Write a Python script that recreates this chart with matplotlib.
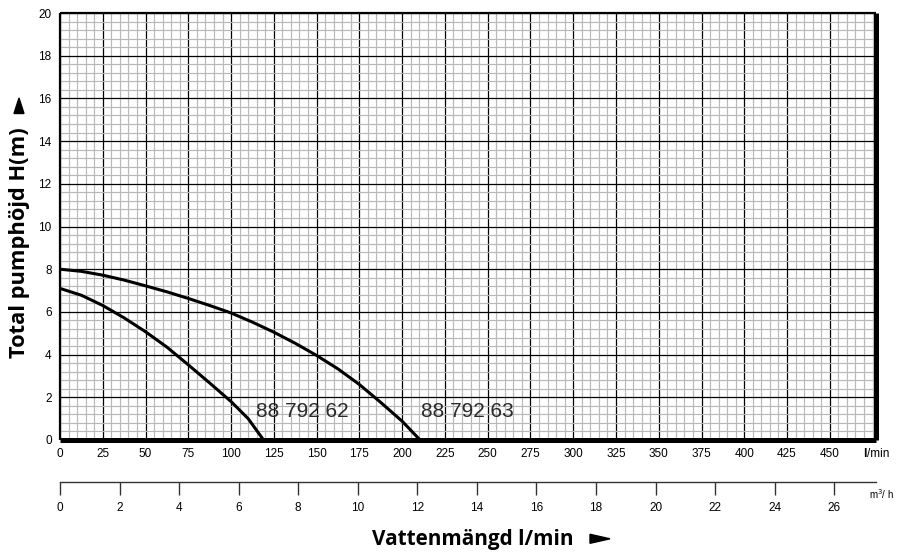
"""Pump curves: Total pumphöjd vs Vattenmängd"""
import matplotlib
matplotlib.use("Agg")
import matplotlib.pyplot as plt
from matplotlib.patches import Polygon
import numpy as np

# flow (l/min) and head (m)
q_62 = [0, 12.5, 25, 37.5, 50, 62.5, 75, 87.5, 100, 110, 119]
h_62 = [7.1, 6.78, 6.3, 5.72, 5.07, 4.35, 3.52, 2.67, 1.8, 1.0, 0.0]

q_63 = [0, 12.5, 25, 37.5, 50, 62.5, 75, 87.5, 100, 112.5, 125, 137.5,
        150, 162.5, 175, 187.5, 200, 210.5]
h_63 = [8.0, 7.9, 7.72, 7.49, 7.22, 6.94, 6.63, 6.3, 5.95, 5.52, 5.05, 4.53,
        3.96, 3.33, 2.6, 1.76, 0.88, 0.0]

curve_names = ["88 792 62", "88 792 63"]
label_pos = [(114.4, 1.06), (211.0, 1.06)]

x_ticks = list(range(0, 451, 25))
y_ticks = list(range(0, 21, 2))
m3h_ticks = list(range(0, 27, 2))

W, H = 897, 552
fig = plt.figure(figsize=(W / 100, H / 100), dpi=100)

tick_font = dict(family="Liberation Sans", size=8.5)


def fpos(x, y):
    # pixel position (from top-left) -> figure fraction
    return x / W, 1 - y / H


# main chart
left, right, top, bottom = 60, 876, 13, 440
ax = fig.add_axes([left / W, 1 - bottom / H, (right - left) / W, (bottom - top) / H])
ax.set_xlim(0, 477)
ax.set_ylim(0, 20)

ax.set_xticks(np.arange(0, 477, 5), minor=True)
ax.set_yticks(np.arange(0, 20.01, 0.4), minor=True)
ax.set_xticks(x_ticks)
ax.set_yticks(y_ticks)
ax.grid(which="minor", color="#b8b8b8", lw=0.85)
ax.grid(which="major", color="black", lw=0.9)
ax.set_axisbelow(True)

ax.set_xticklabels([str(v) for v in x_ticks], **tick_font)
ax.set_yticklabels([str(v) for v in y_ticks], **tick_font)
ax.tick_params(which="both", length=0)
ax.tick_params(axis="x", pad=6)
ax.tick_params(axis="y", pad=6)

for side in ["left", "top"]:
    ax.spines[side].set_linewidth(1.6)
for side in ["right", "bottom"]:
    ax.spines[side].set_linewidth(3.6)
for sp in ax.spines.values():
    sp.set_capstyle("butt")

ax.plot(q_62, h_62, color="black", lw=2.2, solid_joinstyle="round")
ax.plot(q_63, h_63, color="black", lw=2.2, solid_joinstyle="round")

for name, (qx, hy) in zip(curve_names, label_pos):
    ax.text(qx, hy, name, family="Liberation Sans", size=15, ha="left",
            va="baseline", color="#2a2a2a")

fig.text(*fpos(863, 454), "l", family="Liberation Sans", weight="bold",
         size=8.5, ha="left", va="center")
fig.text(*fpos(867, 454), "/min", family="Liberation Sans",
         size=8.5, ha="left", va="center")

# m3/h scale
ax2 = fig.add_axes([left / W, 1 - 482 / H, (right - left) / W, 0.0001])
ax2.set_xlim(0, 27.4)
ax2.set_yticks([])
ax2.set_xticks(m3h_ticks)
ax2.set_xticklabels([str(v) for v in m3h_ticks], **tick_font)
ax2.tick_params(axis="x", direction="out", length=9.5, width=1.0,
                color="#333333", pad=5)
for side in ["left", "right", "top"]:
    ax2.spines[side].set_visible(False)
ax2.spines["bottom"].set_linewidth(1.0)
ax2.spines["bottom"].set_color("#333333")
ax2.patch.set_visible(False)

fig.text(*fpos(869, 494), "m$^3$/ h", family="Liberation Sans",
         size=7, ha="left", va="center")

# axis titles, sized to the reference text lengths
title_font = ["Open Sans", "DejaVu Sans"]
ylab = fig.text(*fpos(20, 243), "Total pumphöjd H(m)", family=title_font,
                weight="bold", size=13, rotation=90, ha="center", va="center")
xlab = fig.text(*fpos(473, 539), "Vattenmängd l/min", family=title_font,
                weight="bold", size=13, ha="center", va="center")

renderer = fig.canvas.get_renderer()
for txt, target, use_h in [(ylab, 229, True), (xlab, 201, False)]:
    bb = txt.get_window_extent(renderer)
    cur = bb.height if use_h else bb.width
    txt.set_size(txt.get_size() * target / cur)

# arrow marks next to the titles
up = [fpos(14, 113.5), fpos(19, 98), fpos(24, 113.5)]
rt = [fpos(590, 534.3), fpos(610, 538.8), fpos(590, 543.3)]
for pts in (up, rt):
    fig.patches.append(Polygon(pts, closed=True, color="black",
                               transform=fig.transFigure, figure=fig))

fig.savefig("out.png", dpi=100)
